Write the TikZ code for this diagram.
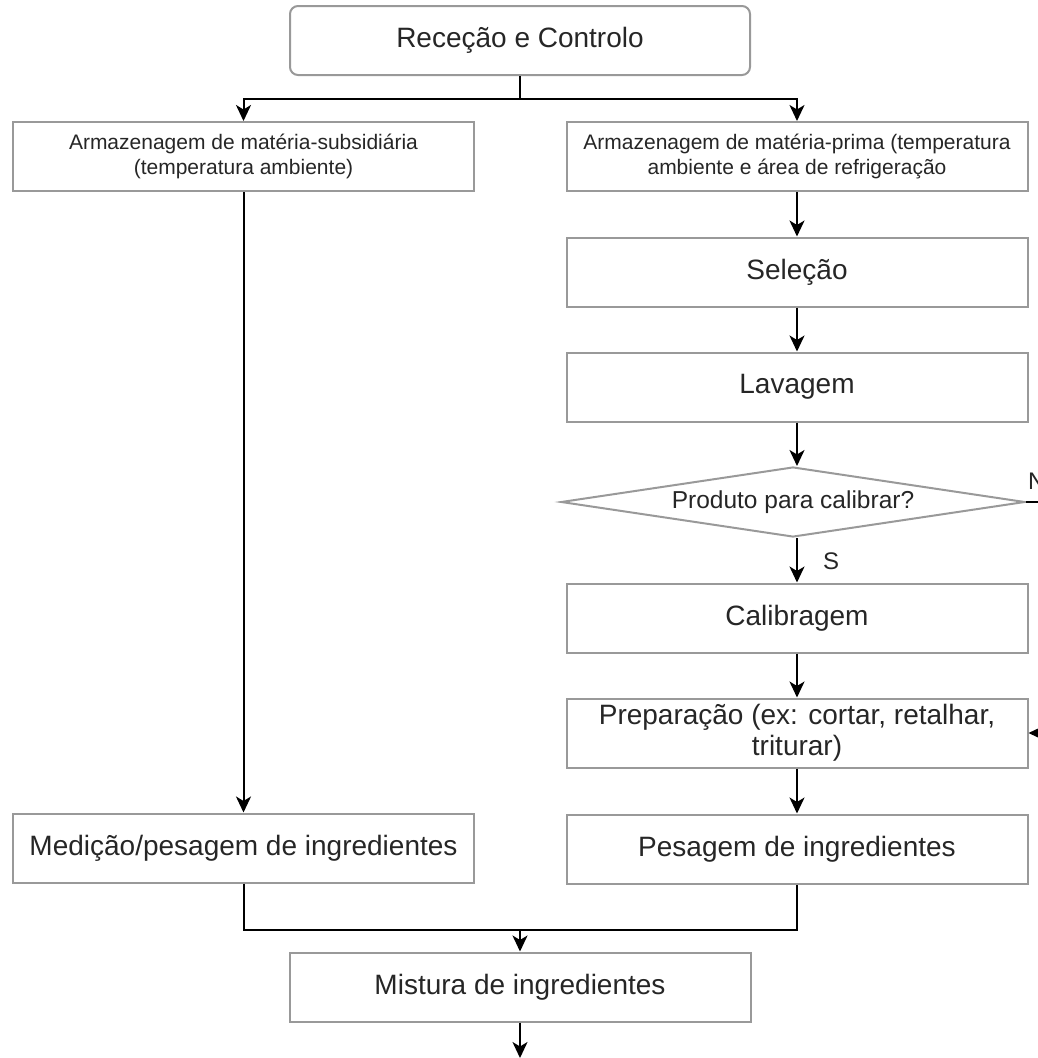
\documentclass[tikz,border=0pt]{standalone}
\usepackage{fontspec}
\setmainfont{Liberation Sans}
\usetikzlibrary{arrows.meta,shapes.geometric}

\begin{document}
\begin{tikzpicture}[x=1pt,y=-1pt,->,>={Stealth[length=16pt,width=15pt,inset=4.5pt]},line width=2pt,
  step node/.style={rectangle,draw=black!40,line width=2pt,minimum width=461pt,
    minimum height=69pt,align=center,text=black!85,font=\fontsize{28}{31}\selectfont},
  small node/.style={step node,font=\fontsize{21}{25}\selectfont},
  test node/.style={diamond,draw=black!40,line width=2pt,aspect=6.6,inner sep=1pt,
    minimum width=464pt,minimum height=70pt,text=black!85,font=\fontsize{24.5}{28}\selectfont},
  lbl/.style={inner sep=0pt,text=black!85,font=\fontsize{24}{28}\selectfont}]

  \useasboundingbox (0,0) rectangle (1038,1058);
  \clip (0,0) rectangle (1038,1058);

  \node[step node,rounded corners=8pt,minimum width=460pt] (rec) at (520,40.5) {Receção e Controlo};
  \node[small node] (armsub) at (243.5,156.5) {Armazenagem de matéria-subsidiária\\(temperatura ambiente)};
  \node[small node] (armprima) at (797,156.5) {Armazenagem de matéria-prima (temperatura\\ambiente e área de refrigeração};
  \node[step node] (sel) at (797,272) {Seleção};
  \node[step node] (lav) at (797,387) {Lavagem};
  \node[test node] (dec) at (793,502) {Produto para calibrar?};
  \node[step node] (cal) at (797,618) {Calibragem};
  \node[step node] (prep) at (797,733) {Preparação (ex: cortar, retalhar,\\triturar)};
  \node[step node] (pesing) at (797,849) {Pesagem de ingredientes};
  \node[step node] (medic) at (243.5,848) {Medição/pesagem de ingredientes};
  \node[step node] (mist) at (520,987) {Mistura de ingredientes};

  \node[lbl,anchor=base west] (s) at (822,569) {S};
  \node[lbl,anchor=base west] (n) at (1027,489) {N};

  % split after reception
  \draw[-] (rec.south) -- ++(0,23) coordinate (split);
  \draw (split) -| (armsub.north);
  \draw (split) -| (armprima.north);

  \draw (armsub.south) -- (medic.north);
  \draw (armprima.south) -- (sel.north);
  \draw (sel.south) -- (lav.north);
  \draw (lav.south) -- (lav.south |- dec.north);
  \draw (cal.north |- dec.south) -- (cal.north);
  \draw (cal.south) -- (prep.north);
  \draw (prep.south) -- (pesing.north);

  % product without calibration
  \draw (dec.east) -- ++(40,0) |- (prep.east);

  % join
  \draw[-] (medic.south) -- ++(0,46) coordinate (joinl) -| (pesing.south);
  \draw (joinl -| mist.north) -- (mist.north);
  \coordinate (out) at (520,1058);
  \draw (mist.south) -- (out);
\end{tikzpicture}
\end{document}
